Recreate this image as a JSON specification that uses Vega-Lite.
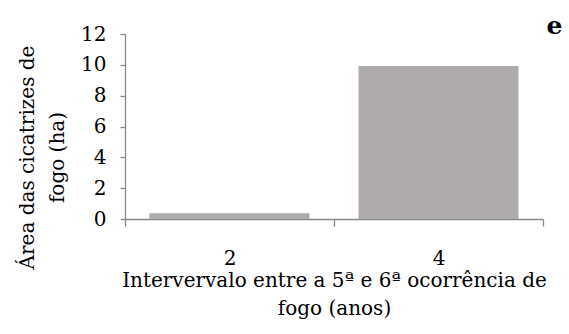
{
  "$schema": "https://vega.github.io/schema/vega-lite/v6.json",
  "autosize": {"type": "none"},
  "width": 418,
  "height": 185,
  "padding": {"left": 125, "top": 34, "right": 26, "bottom": 115},
  "background": "white",
  "title": {"text": "e", "anchor": "end", "dx": 16, "dy": 21, "offset": 6, "fontSize": 25, "fontWeight": "bold", "font": "DejaVu Serif", "color": "black"},
  "data": {"values": [
    {"intervalo": "2", "area": 0.37},
    {"intervalo": "4", "area": 9.92}
  ]},
  "mark": {"type": "bar", "color": "#AFABAB", "width": {"band": 0.766}},
  "encoding": {
    "x": {
      "field": "intervalo", "type": "nominal",
      "scale": {"paddingInner": 0, "paddingOuter": 0},
      "axis": {
        "title": ["Intervervalo entre a 5ª e 6ª ocorrência de", "fogo (anos)"],
        "labelAngle": 0,
        "tickBand": "extent",
        "tickSize": 7,
        "labelPadding": 22,
        "titlePadding": 2,
        "titleLineHeight": 28,
        "titleX": 209,
        "labelFont": "DejaVu Serif",
        "titleFont": "DejaVu Serif",
        "labelFontSize": 20,
        "titleFontSize": 20,
        "titleFontWeight": "normal",
        "labelColor": "black",
        "titleColor": "black",
        "domainColor": "#888888",
        "tickColor": "#888888",
        "domainWidth": 1.3,
        "tickWidth": 1.3
      }
    },
    "y": {
      "field": "area", "type": "quantitative",
      "scale": {"domain": [0, 12], "nice": false},
      "axis": {
        "title": ["Área das cicatrizes de", "fogo (ha)"],
        "values": [0, 2, 4, 6, 8, 10, 12],
        "grid": false,
        "tickSize": 5,
        "labelPadding": 14,
        "titlePadding": 13,
        "titleLineHeight": 30,
        "titleY": 123,
        "labelFont": "DejaVu Serif",
        "titleFont": "DejaVu Serif",
        "labelFontSize": 20,
        "titleFontSize": 20,
        "titleFontWeight": "normal",
        "labelColor": "black",
        "titleColor": "black",
        "domainColor": "#888888",
        "tickColor": "#888888",
        "domainWidth": 1.3,
        "tickWidth": 1.3
      }
    }
  },
  "config": {
    "view": {"stroke": null}
  }
}
